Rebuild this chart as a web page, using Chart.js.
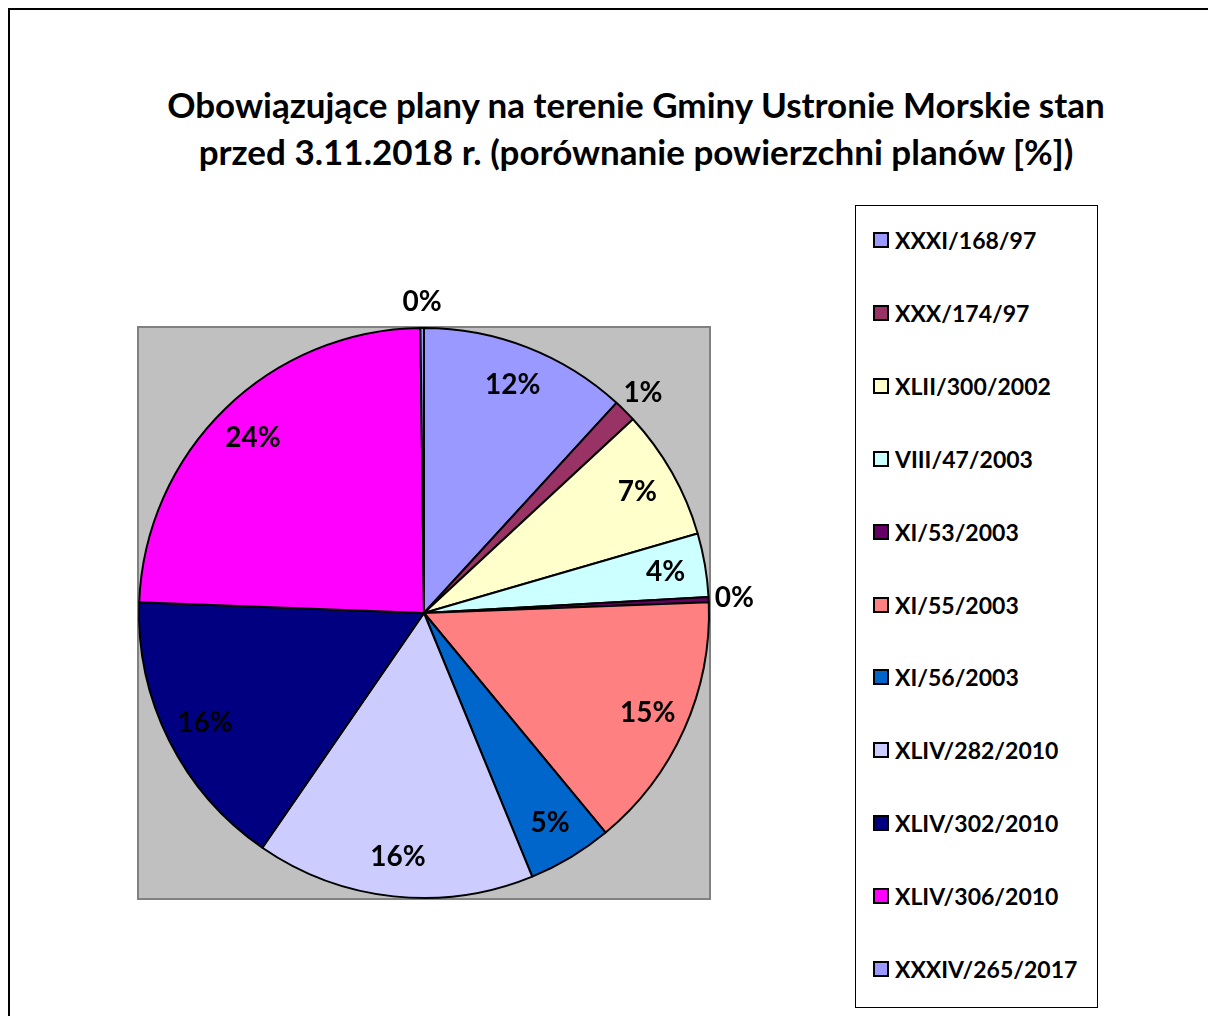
<!DOCTYPE html>
<html>
<head>
<meta charset="utf-8">
<script src="https://cdn.jsdelivr.net/npm/chart.js"></script>
<style>
  body { margin: 0; width: 1208px; height: 1016px; overflow: hidden; background: #fff; position: relative; font-family: Lato, "Open Sans", sans-serif; }
  #frame { position: absolute; left: 8px; top: 8px; width: 1300px; height: 1100px; border-left: 2px solid #000; border-top: 2px solid #000; }
  #title { position: absolute; left: 86px; width: 1100px; top: 81px; text-align: center; font-weight: bold; font-size: 35px; line-height: 47px; color: #000; }
  #wrap { position: absolute; left: 0; top: 0; width: 1208px; height: 1016px; }
  #legend { position: absolute; left: 855px; top: 205px; width: 243px; height: 803px; border: 1px solid #000; box-sizing: border-box; background: #fff; }
  .item { position: absolute; left: 17px; height: 30px; display: flex; align-items: center; font-weight: bold; font-size: 23px; color: #000; white-space: nowrap; }
  .sw { width: 12px; height: 12px; border: 2px solid #000; margin-right: 6px; flex: none; }
</style>
</head>
<body>
<div id="frame"></div>
<div id="title">Obowiązujące plany na terenie Gminy Ustronie Morskie stan<br>przed 3.11.2018 r. (porównanie powierzchni planów [%])</div>
<div id="wrap"><canvas id="myChart" width="1208" height="1016"></canvas></div>
<div id="legend"></div>
<script>
const plany = ['XXXI/168/97', 'XXX/174/97', 'XLII/300/2002', 'VIII/47/2003', 'XI/53/2003', 'XI/55/2003',
  'XI/56/2003', 'XLIV/282/2010', 'XLIV/302/2010', 'XLIV/306/2010', 'XXXIV/265/2017'];
const powierzchnia = [11.8, 1.3, 7.4, 3.6, 0.3, 14.6, 4.8, 15.8, 16.0, 24.2, 0.2];
const kolory = ['#9999FF', '#993366', '#FFFFCC', '#CCFFFF', '#660066', '#FF8080',
  '#0066CC', '#CCCCFF', '#000080', '#FF00FF', '#9999FF'];

// legenda w html
const leg = document.getElementById('legend');
plany.forEach((p, i) => {
  const d = document.createElement('div');
  d.className = 'item';
  d.style.top = (36 - 17 + i * 72.9) + 'px';
  d.innerHTML = '<span class="sw" style="background:' + kolory[i] + '"></span>' + p;
  leg.appendChild(d);
});

const tloWykresu = {
  id: 'tloWykresu',
  beforeDraw(chart) {
    const { ctx, chartArea: a } = chart;
    ctx.save();
    ctx.fillStyle = '#C0C0C0';
    ctx.fillRect(a.left, a.top, a.right - a.left, a.bottom - a.top);
    ctx.strokeStyle = '#808080';
    ctx.lineWidth = 2;
    ctx.strokeRect(a.left, a.top, a.right - a.left, a.bottom - a.top);
    ctx.restore();
  }
};

const etykiety = {
  id: 'etykiety',
  afterDatasetsDraw(chart) {
    const ctx = chart.ctx;
    const meta = chart.getDatasetMeta(0);
    const dane = chart.data.datasets[0].data;
    const suma = dane.reduce((a, b) => a + b, 0);
    ctx.save();
    ctx.font = 'bold 28px Lato, "Open Sans", sans-serif';
    ctx.fillStyle = '#000';
    ctx.textAlign = 'center';
    ctx.textBaseline = 'middle';
    meta.data.forEach((arc, i) => {
      const pct = dane[i] / suma * 100;
      const mid = (arc.startAngle + arc.endAngle) / 2;
      const r = pct < 2 ? arc.outerRadius * 1.09 : arc.outerRadius * 0.86;
      ctx.fillText(Math.round(pct) + '%', arc.x + Math.cos(mid) * r, arc.y + Math.sin(mid) * r);
    });
    ctx.restore();
  }
};

new Chart(document.getElementById('myChart'), {
  type: 'pie',
  data: {
    labels: plany,
    datasets: [{
      data: powierzchnia,
      backgroundColor: kolory,
      borderColor: '#000',
      borderWidth: 2
    }]
  },
  options: {
    responsive: false,
    animation: false,
    layout: { padding: { left: 138, top: 327, right: 498, bottom: 117 } },
    plugins: {
      legend: { display: false },
      tooltip: { enabled: false },
      title: { display: false }
    }
  },
  plugins: [tloWykresu, etykiety]
});
</script>
</body>
</html>
